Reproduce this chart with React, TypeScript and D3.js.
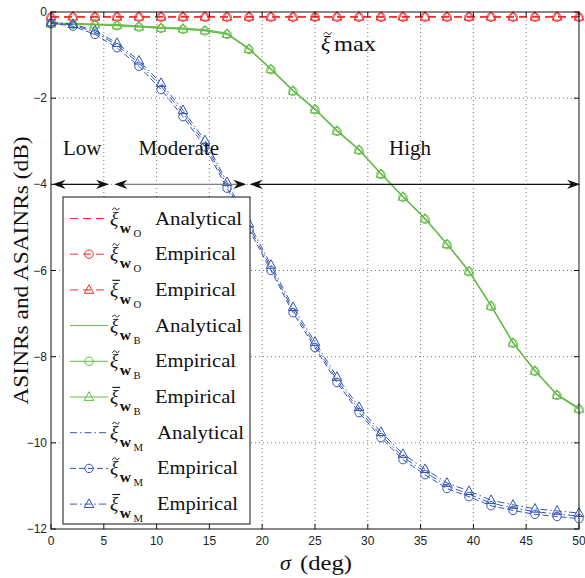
import React from 'react';
import * as d3 from 'd3';

const sigma = [0, 2.08, 4.17, 6.25, 8.33, 10.42, 12.5, 14.58, 16.67, 18.75, 20.83, 22.92, 25, 27.08, 29.17, 31.25, 33.33, 35.42, 37.5, 39.58, 41.67, 43.75, 45.83, 47.92, 50];

const redAnalytical = [-0.11, -0.11, -0.11, -0.11, -0.11, -0.11, -0.11, -0.11, -0.11, -0.11, -0.11, -0.11, -0.11, -0.11, -0.11, -0.11, -0.11, -0.11, -0.11, -0.11, -0.11, -0.11, -0.11, -0.11, -0.11];
const redEmpCircle = [-0.12, -0.12, -0.12, -0.12, -0.12, -0.12, -0.12, -0.12, -0.12, -0.12, -0.12, -0.12, -0.12, -0.12, -0.12, -0.12, -0.12, -0.12, -0.12, -0.12, -0.12, -0.12, -0.12, -0.12, -0.12];
const redEmpTriangle = [-0.11, -0.11, -0.11, -0.11, -0.11, -0.11, -0.11, -0.11, -0.11, -0.11, -0.11, -0.11, -0.11, -0.11, -0.11, -0.11, -0.11, -0.11, -0.11, -0.11, -0.11, -0.11, -0.11, -0.11, -0.11];

const greenAnalytical = [-0.26, -0.26, -0.28, -0.29, -0.32, -0.35, -0.37, -0.41, -0.49, -0.84, -1.31, -1.81, -2.24, -2.74, -3.18, -3.74, -4.27, -4.78, -5.37, -6.0, -6.8, -7.66, -8.31, -8.87, -9.19];
const greenEmpCircle = [-0.28, -0.29, -0.3, -0.32, -0.35, -0.38, -0.4, -0.44, -0.52, -0.87, -1.34, -1.84, -2.27, -2.77, -3.21, -3.77, -4.3, -4.81, -5.4, -6.03, -6.83, -7.69, -8.34, -8.9, -9.22];
const greenEmpTriangle = [-0.27, -0.28, -0.29, -0.31, -0.34, -0.37, -0.39, -0.43, -0.51, -0.86, -1.33, -1.83, -2.26, -2.76, -3.2, -3.76, -4.29, -4.8, -5.39, -6.02, -6.82, -7.68, -8.33, -8.89, -9.21];

const blueAnalytical = [-0.25, -0.3, -0.47, -0.77, -1.19, -1.72, -2.35, -3.05, -4.02, -4.98, -5.94, -6.92, -7.73, -8.54, -9.24, -9.82, -10.33, -10.68, -11.0, -11.19, -11.4, -11.51, -11.6, -11.65, -11.7];
const blueEmpCircle = [-0.26, -0.33, -0.52, -0.83, -1.26, -1.8, -2.43, -3.13, -4.09, -5.05, -6.0, -6.98, -7.79, -8.6, -9.3, -9.88, -10.39, -10.74, -11.06, -11.25, -11.46, -11.57, -11.66, -11.71, -11.76];
const blueEmpTriangle = [-0.24, -0.28, -0.43, -0.72, -1.13, -1.65, -2.28, -2.98, -3.95, -4.91, -5.87, -6.85, -7.66, -8.47, -9.17, -9.75, -10.26, -10.61, -10.93, -11.12, -11.33, -11.44, -11.53, -11.58, -11.63];

const xTicks = [0, 5, 10, 15, 20, 25, 30, 35, 40, 45, 50];
const yTicks = [0, -2, -4, -6, -8, -10, -12];

const legendAccents = ['tilde', 'tilde', 'bar', 'tilde', 'tilde', 'bar', 'tilde', 'tilde', 'bar'];
const legendSubs = ['O', 'O', 'O', 'B', 'B', 'B', 'M', 'M', 'M'];
const legendWords = ['Analytical', 'Empirical', 'Empirical', 'Analytical', 'Empirical', 'Empirical', 'Analytical', 'Empirical', 'Empirical'];

const regionLabels = ['Low', 'Moderate', 'High'];
const regionLabelX = [2.95, 12.1, 34.0];
const regionStart = [0.15, 6.0, 18.8];
const regionEnd = [5.5, 18.5, 50.1];
const regionLevel = -4;
const regionLabelLevel = -3.32;

const RED = '#f42a2a';
const GREEN = '#62bb45';
const BLUE = '#3454b8';

type Series = { values: number[]; color: string; dash: string; marker: 'none' | 'circle' | 'triangle' };

const series: Series[] = [
  { values: redAnalytical, color: RED, dash: '8 5', marker: 'none' },
  { values: redEmpCircle, color: RED, dash: '8 5', marker: 'circle' },
  { values: redEmpTriangle, color: RED, dash: '8 5', marker: 'triangle' },
  { values: greenAnalytical, color: GREEN, dash: '', marker: 'none' },
  { values: greenEmpCircle, color: GREEN, dash: '', marker: 'circle' },
  { values: greenEmpTriangle, color: GREEN, dash: '', marker: 'triangle' },
  { values: blueAnalytical, color: BLUE, dash: '7 3 1.5 3', marker: 'none' },
  { values: blueEmpCircle, color: BLUE, dash: '6 3', marker: 'circle' },
  { values: blueEmpTriangle, color: BLUE, dash: '7 3 1.5 3', marker: 'triangle' },
];

const SERIF = 'Liberation Serif';
const SANS = 'Liberation Sans';

const L = 51, R = 579, T = 12, B = 529;
const xs = d3.scaleLinear().domain([0, 50]).range([L, R]);
const ys = d3.scaleLinear().domain([-12, 0]).range([B, T]);

function Marker({ kind, cx, cy, color }: { kind: string; cx: number; cy: number; color: string }) {
  if (kind === 'circle') return <circle cx={cx} cy={cy} r={4.2} fill="none" stroke={color} strokeWidth={1} />;
  if (kind === 'triangle')
    return (
      <path
        d={`M${cx},${cy - 5.2}L${cx + 4.8},${cy + 3.4}L${cx - 4.8},${cy + 3.4}Z`}
        fill="none"
        stroke={color}
        strokeWidth={1}
      />
    );
  return null;
}

function tildePath(cx: number, cy: number, w: number) {
  const h = w * 0.22;
  return `M${cx - w / 2},${cy + h * 0.6} C${cx - w / 4},${cy - h * 1.2} ${cx - w * 0.05},${cy - h * 0.6} ${cx},${cy} S${cx + w / 4},${cy + h * 1.2} ${cx + w / 2},${cy - h * 0.6}`;
}

function XiSym({ x, y, size, accent, sub }: { x: number; y: number; size: number; accent: string; sub?: string }) {
  return (
    <g>
      <text x={x} y={y} style={{ fontFamily: SERIF }} fontStyle="italic" fontSize={size} fill="#111">ξ</text>
      {accent === 'tilde' ? (
        <path d={tildePath(x + size * 0.3, y - size * 0.8, size * 0.36)} fill="none" stroke="#111" strokeWidth={1} />
      ) : (
        <line x1={x + size * 0.12} x2={x + size * 0.52} y1={y - size * 0.8} y2={y - size * 0.8} stroke="#111" strokeWidth={1.1} />
      )}
      {sub ? (
        <g>
          <text x={x + size * 0.5} y={y + 8} style={{ fontFamily: SERIF }} fontWeight="bold" fontSize={size * 0.8} fill="#111">w</text>
          <text x={x + size * 1.2} y={y + 12} style={{ fontFamily: SERIF }} fontSize={size * 0.55} fill="#111">{sub}</text>
        </g>
      ) : null}
    </g>
  );
}

function arrowHead(tipX: number, tipY: number, dir: number) {
  const len = 13, half = 4.6, notch = 9;
  return `M${tipX},${tipY}L${tipX - dir * len},${tipY - half}L${tipX - dir * notch},${tipY}L${tipX - dir * len},${tipY + half}Z`;
}

export default function App() {
  const line = d3
    .line<number>()
    .x((_, i) => xs(sigma[i]))
    .y((d) => ys(d));

  const legendX0 = 63, legendY0 = 197, legendW = 187, legendH = 327;
  const rowY0 = 218.5, rowStep = 35.7;

  return (
    <svg width={585} height={578} style={{ position: 'absolute', left: 0, top: 0, background: '#fff' }}>
      <rect x={0} y={0} width={585} height={578} fill="#fff" />
      {xTicks.filter((t) => t !== 0 && t !== 50).map((t) => (
        <line key={'gx' + t} x1={xs(t)} x2={xs(t)} y1={T} y2={B} stroke="#777" strokeWidth={1} strokeDasharray="1 3" />
      ))}
      {yTicks.filter((t) => t !== 0 && t !== -12).map((t) => (
        <line key={'gy' + t} x1={L} x2={R} y1={ys(t)} y2={ys(t)} stroke="#777" strokeWidth={1} strokeDasharray="1 3" />
      ))}

      {series.map((s, si) => (
        <g key={'s' + si}>
          <path d={line(s.values) || ''} fill="none" stroke={s.color} strokeWidth={1} strokeDasharray={s.dash || undefined} />
          {s.marker !== 'none'
            ? s.values.map((v, i) => <Marker key={i} kind={s.marker} cx={xs(sigma[i])} cy={ys(v)} color={s.color} />)
            : null}
        </g>
      ))}

      <rect x={L} y={T} width={R - L} height={B - T} fill="none" stroke="#111" strokeWidth={1} />
      {xTicks.map((t) => (
        <g key={'tx' + t}>
          <line x1={xs(t)} x2={xs(t)} y1={B} y2={B - 5} stroke="#111" />
          <line x1={xs(t)} x2={xs(t)} y1={T} y2={T + 5} stroke="#111" />
          <text x={xs(t)} y={B + 16} textAnchor="middle" style={{ fontFamily: SANS }} fontSize={12} fill="#222">{t}</text>
        </g>
      ))}
      {yTicks.map((t) => (
        <g key={'ty' + t}>
          <line x1={L} x2={L + 5} y1={ys(t)} y2={ys(t)} stroke="#111" />
          <line x1={R} x2={R - 5} y1={ys(t)} y2={ys(t)} stroke="#111" />
          <text x={L - 4} y={ys(t) + 4} textAnchor="end" style={{ fontFamily: SANS }} fontSize={12} fill="#222">
            {t === 0 ? '0' : '\u2212' + Math.abs(t)}
          </text>
        </g>
      ))}

      <text
        transform={`translate(28,${(T + B) / 2}) rotate(-90)`}
        textAnchor="middle"
        style={{ fontFamily: SERIF }}
        fontSize={21.5}
        fill="#111"
        textLength={268}
        lengthAdjust="spacingAndGlyphs"
      >
        ASINRs and ASAINRs (dB)
      </text>
      <text x={280} y={570} style={{ fontFamily: SERIF }} fontStyle="italic" fontSize={22} fill="#111">σ</text>
      <text x={300} y={570} style={{ fontFamily: SERIF }} fontSize={22} fill="#111" textLength={52} lengthAdjust="spacingAndGlyphs">(deg)</text>

      <XiSym x={321} y={51} size={22} accent="tilde" />
      <text x={334} y={51} style={{ fontFamily: SERIF }} fontSize={22} fill="#111" textLength={42} lengthAdjust="spacingAndGlyphs">max</text>

      {regionLabels.map((lab, i) => {
        const yA = ys(regionLevel);
        const x1 = xs(regionStart[i]);
        const x2 = xs(regionEnd[i]);
        return (
          <g key={'r' + i}>
            <text x={xs(regionLabelX[i])} y={ys(regionLabelLevel)} textAnchor="middle" style={{ fontFamily: SERIF }} fontSize={21} fill="#111">
              {lab}
            </text>
            <line x1={x1 + 6} x2={x2 - 6} y1={yA} y2={yA} stroke={i === 1 ? '#808080' : '#111'} strokeWidth={1.2} />
            <path d={arrowHead(x1, yA, -1)} fill="#111" />
            <path d={arrowHead(x2, yA, 1)} fill="#111" />
          </g>
        );
      })}

      <rect x={legendX0} y={legendY0} width={legendW} height={legendH} fill="#fff" stroke="#111" strokeWidth={1} />
      {series.map((s, i) => {
        const ry = rowY0 + i * rowStep;
        const isM = legendSubs[i] === 'M';
        return (
          <g key={'lg' + i}>
            <line x1={70} x2={108} y1={ry} y2={ry} stroke={s.color} strokeWidth={1} strokeDasharray={s.dash || undefined} />
            {s.marker !== 'none' ? <Marker kind={s.marker} cx={89} cy={ry} color={s.color} /> : null}
            <XiSym x={110} y={ry + 6} size={19.5} accent={legendAccents[i]} sub={legendSubs[i]} />
            <text
              x={isM ? 157 : 155}
              y={ry + 6}
              style={{ fontFamily: SERIF }}
              fontSize={19.5}
              fill="#111"
              textLength={legendWords[i] === 'Analytical' ? 87 : 81}
              lengthAdjust="spacingAndGlyphs"
            >
              {legendWords[i]}
            </text>
          </g>
        );
      })}
    </svg>
  );
}
